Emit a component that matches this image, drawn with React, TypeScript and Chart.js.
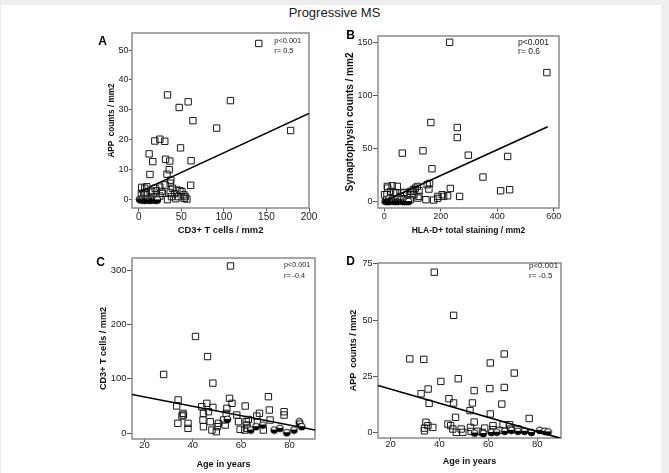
import React, { useEffect, useRef } from 'react';
import { Chart, registerables } from 'chart.js';

Chart.register(...registerables);

const FONT = '"Liberation Sans", Arial, Helvetica, sans-serif';

// ---------- Panel A : APP vs CD3+ ----------
const aSquares: [number, number][] = [
  [141, 52.2], [33.8, 35], [58.1, 32.7], [47.5, 30.8], [107.7, 33.1], [63.7, 26.4], [91.5, 23.9],
  [178.4, 23.1], [24.8, 20.2], [18.9, 19.6], [30.6, 19.5], [49.1, 17.3], [12.2, 15.3], [16.5, 12.7],
  [31.5, 13.5], [36.5, 12.9], [61.5, 13], [35.8, 10], [13.2, 8.4], [33.2, 8.5], [37.7, 6.5], [61, 4.8],
  [31, 4.9], [24.8, 4.2], [7.1, 3.8], [3.5, 4.1], [9.4, 4.3], [19.2, 3.8], [36.9, 5.5], [39.6, 3.8],
  [44.8, 3.2], [50.7, 2.7], [37, 2.4], [42, 2], [46.8, 1], [54.6, 1], [56.6, 0.2], [27, 2.7],
  [15.2, 2.7], [7.3, 2.2], [3.1, 2.1], [9, 2.3], [20.8, 3], [27.9, 2.1], [53.4, 0.4], [43.6, 0.3],
  [33.8, 0], [38.5, 1], [5.9, 1.6], [17.7, 1], [24.8, 1.2], [48.3, 3], [53, 1.6],
];
const aCircles: [number, number][] = [
  [1, 0.1], [2.5, -0.1], [4, 0.2], [5, 0], [6.5, -0.2], [8, 0.1], [9, -0.1], [10.5, 0.2], [12, 0],
  [13, -0.2], [14.5, 0.1], [16, -0.1], [17, 0.2], [18.5, 0], [20, -0.2], [21, 0.1], [22, -0.1],
];
const aFit: [number, number][] = [[0, 2.5], [200, 28.8]];
const aXTicks = [0, 50, 100, 150, 200];
const aYTicks = [0, 10, 20, 30, 40, 50];

// ---------- Panel B : Synaptophysin vs HLA-D ----------
const bSquares: [number, number][] = [
  [231.5, 150], [576, 121.5], [165, 74.5], [258.6, 69.8], [258.6, 60.4], [63.8, 45.7], [137, 47.9],
  [297.6, 43.8], [437, 42.6], [168.9, 31], [349.6, 23.2], [160.6, 17.2], [158.2, 11.9], [233.9, 12.5],
  [412.2, 10.3], [444, 11.3], [266.9, 5], [147.6, 1.9], [174.8, 1.6], [189, 3.1], [210.2, 5],
  [224.4, 5.6], [119.3, 3.4], [10.6, 14.4], [28, 15], [46, 14.4], [1, 6.6], [22, 9.7], [40, 8.2],
  [70, 8.2], [93, 9.7], [117, 14.4], [123, 10.6], [105, 6.6], [123, 5], [152, 16], [190, 5],
  [205, 6.6], [12, 12.8], [33, 8.8], [9.4, 6.6], [68.5, 8.8], [98, 9.7], [109.8, 12.8], [104, 11.3],
  [80.3, 6.6], [56.7, 5], [39, 2.5], [92, 1.9],
];
const bCircles: [number, number][] = [
  [3, 0.5], [8, 2.2], [12, 0.2], [16, 2.8], [20, 0.6], [25, 1.5], [29, 2.4], [33, 0.4], [38, 1.9],
  [42, 0.2], [46, 2.6], [50, 0.5], [55, 1.4], [59, 2.2], [63, 0.4], [68, 1.9], [72, 0.1], [77, 1.3],
  [81, 0.5], [86, 0.2],
];
const bFit: [number, number][] = [[0, 0.5], [579, 70.6]];
const bXTicks = [0, 200, 400, 600];
const bYTicks = [0, 50, 100, 150];

// ---------- Panel C : CD3+ vs Age ----------
const cSquares: [number, number][] = [
  [55.6, 308], [41.1, 178], [46.1, 141], [48.3, 92], [27.9, 108], [33.9, 61], [33.3, 50],
  [35.9, 36.3], [35.5, 31.3], [33.8, 17.9], [38, 17.9], [38, 8.6], [43.7, 48.6], [44.4, 36],
  [45.8, 54.7], [46.5, 39.3], [44.2, 23.9], [44.4, 11.7], [47.2, 20.9], [47.9, 5.5], [49.7, 2.5],
  [50.6, 17.9], [54.1, 45.5], [55.2, 64], [56.2, 54.7], [53.8, 36.3], [52.7, 24], [53.4, 14.7],
  [58.2, 33.2], [58.9, 20.9], [61.7, 49.8], [62.1, 20.9], [62.4, 14.8], [62.6, 8.6], [59.6, 6.8],
  [66.5, 31.3], [67.6, 36.3], [66.7, 20.9], [69.2, 5.5], [71.3, 67], [71.7, 42.4], [72, 24],
  [77.8, 39.3], [77.8, 33.2], [48.3, 47.3], [50.1, 11.7], [61.5, 5.5], [63, 25], [36.1, 33.2],
];
const cCircles: [number, number][] = [
  [54.3, 25.2], [64, 5.5], [66.2, 11.7], [69, 14.8], [73.7, 5.5], [76.1, 8.6], [78.9, 0.6],
  [81.9, 5.5], [84.1, 20.9], [84.3, 17], [85.1, 11.7],
];
const cFit: [number, number][] = [[14.8, 71], [90.6, 5.5]];
const cXTicks = [20, 40, 60, 80];
const cYTicks = [0, 100, 200, 300];

// ---------- Panel D : APP vs Age ----------
const dSquares: [number, number][] = [
  [37.9, 71.3], [45.8, 52.1], [27.9, 32.7], [33.6, 32.5], [66.5, 34.9], [60.8, 30.9], [70.6, 26.4],
  [40.6, 22.7], [47.7, 23.9], [60.6, 19.5], [66.5, 20], [35.4, 19.3], [32.5, 17.2], [54.2, 18.6],
  [43.9, 15], [35.8, 12.9], [45.8, 13.1], [53.5, 13.1], [65.5, 12.6], [52.5, 9.7], [60.8, 8.2],
  [76.7, 6.2], [46.6, 6.7], [54.2, 4.6], [34.5, 4.5], [35.3, 3], [33.9, 1.9], [33.9, 0.7],
  [37.3, 2.2], [43.5, 3.7], [44.6, 3], [45.5, 1.5], [46.9, 0], [48.9, 1.5], [49.6, 0], [52.7, 2.2],
  [53, 0.4], [55.7, 0.5], [58.5, 1.9], [61.9, 3], [61.9, 1.2], [64.6, 0.9], [68.7, 3.4], [69.1, 1.5],
  [72.1, 1.5], [57.6, 0], [66, 3.4],
];
const dCircles: [number, number][] = [
  [54.4, -0.3], [61.2, 0], [66.7, 0.5], [69.4, 0.9], [72.1, 0.5], [74.8, 0.5], [77.6, 0], [81, 0.9],
  [83, 0.5], [84.4, 0.2], [63.4, 0.1], [57.9, -0.5],
];
const dFit: [number, number][] = [[14.9, 20.9], [89.7, -2.7]];
const dXTicks = [20, 40, 60, 80];
const dYTicks = [0, 25, 50, 75];

interface PanelCfg {
  key: string;
  area: { l: number; t: number; r: number; b: number };
  xRange: [number, number];
  yRange: [number, number];
  xTicks: number[];
  yTicks: number[];
  xTitle: string;
  yTitle: string;
  xTitleSize: number;
  yTitleSize: number;
  xTickSize: number;
  yTickSize: number;
  yTitleCX: number;
  xTitleCY: number;
  tickLenX: number;
  tickLenY: number;
  xTickPad: number;
  squares: [number, number][];
  circles: [number, number][];
  fit: [number, number][];
  letter: string;
  letterC: [number, number];
  ann: { left: number; c1: number; c2: number; size: number; r: string };
}

const panels: PanelCfg[] = [
  {
    key: 'A', area: { l: 132, t: 33, r: 309, b: 208 }, xRange: [-7.9, 200], yRange: [-2.8, 55.7],
    xTicks: aXTicks, yTicks: aYTicks, xTitle: 'CD3+ T cells / mm2', yTitle: 'APP  counts / mm2',
    xTitleSize: 9.4, yTitleSize: 8.2, xTickSize: 10, yTickSize: 9, yTitleCX: 111.7, xTitleCY: 230.7,
    tickLenX: 3.5, tickLenY: 3, xTickPad: 0, squares: aSquares, circles: aCircles, fit: aFit,
    letter: 'A', letterC: [102.7, 40.7], ann: { left: 274.3, c1: 41, c2: 50.3, size: 7.4, r: 'r= 0.5' },
  },
  {
    key: 'B', area: { l: 378, t: 36, r: 559, b: 208 }, xRange: [-22.3, 619], yRange: [-5.9, 155.9],
    xTicks: bXTicks, yTicks: bYTicks, xTitle: 'HLA-D+ total staining / mm2', yTitle: 'Synaptophysin counts / mm2',
    xTitleSize: 8.5, yTitleSize: 10, xTickSize: 9, yTickSize: 9, yTitleCX: 350.7, xTitleCY: 230.7,
    tickLenX: 3.5, tickLenY: 5, xTickPad: 0, squares: bSquares, circles: bCircles, fit: bFit,
    letter: 'B', letterC: [350.7, 35], ann: { left: 518, c1: 42.3, c2: 51.7, size: 8.5, r: 'r= 0.6' },
  },
  {
    key: 'C', area: { l: 132, t: 258, r: 315, b: 439 }, xRange: [14.8, 90.6], yRange: [-11, 322.7],
    xTicks: cXTicks, yTicks: cYTicks, xTitle: 'Age in years', yTitle: 'CD3+ T cells / mm2',
    xTitleSize: 9.1, yTitleSize: 9.1, xTickSize: 9.5, yTickSize: 9.5, yTitleCX: 103, xTitleCY: 464.3,
    tickLenX: 3, tickLenY: 5, xTickPad: -2, squares: cSquares, circles: cCircles, fit: cFit,
    letter: 'C', letterC: [100.7, 262.3], ann: { left: 284, c1: 264, c2: 275, size: 7.2, r: 'r= -0.4' },
  },
  {
    key: 'D', area: { l: 378, t: 263, r: 561, b: 438 }, xRange: [14.9, 89.7], yRange: [-2.5, 75.4],
    xTicks: dXTicks, yTicks: dYTicks, xTitle: 'Age in years', yTitle: 'APP  counts / mm2',
    xTitleSize: 9, yTitleSize: 9, xTickSize: 9.5, yTickSize: 9, yTitleCX: 354, xTitleCY: 461.7,
    tickLenX: 3, tickLenY: 5, xTickPad: -2, squares: dSquares, circles: dCircles, fit: dFit,
    letter: 'D', letterC: [350.7, 261], ann: { left: 529, c1: 266, c2: 275.7, size: 8, r: 'r= -0.5' },
  },
];

const YW = 50;
const XH = 38;
const PAD_T = 12;
const PAD_R = 14;

function geom(p: PanelCfg) {
  const left = p.area.l - YW;
  const top = p.area.t - PAD_T;
  const w = p.area.r + PAD_R - left;
  const h = p.area.b + XH - top;
  return { left, top, w, h };
}

function makeHalfDot(): HTMLCanvasElement {
  const c = document.createElement('canvas');
  c.width = 9;
  c.height = 9;
  const ctx = c.getContext('2d')!;
  const cx = 4.5, cy = 4.5, r = 3.4;
  ctx.beginPath();
  ctx.arc(cx, cy, r, 0, Math.PI * 2);
  ctx.fillStyle = '#fff';
  ctx.fill();
  ctx.save();
  ctx.beginPath();
  ctx.rect(0, cy - 0.5, 9, 9);
  ctx.clip();
  ctx.beginPath();
  ctx.arc(cx, cy, r, 0, Math.PI * 2);
  ctx.fillStyle = '#000';
  ctx.fill();
  ctx.restore();
  ctx.beginPath();
  ctx.arc(cx, cy, r, 0, Math.PI * 2);
  ctx.strokeStyle = '#000';
  ctx.lineWidth = 1;
  ctx.stroke();
  return c;
}

const boxPlugin = {
  id: 'plotBox',
  beforeDatasetsDraw(chart: any) {
    const { left, top, right, bottom } = chart.chartArea;
    const ctx = chart.ctx;
    ctx.save();
    ctx.strokeStyle = '#8a8a8a';
    ctx.lineWidth = 1.5;
    ctx.strokeRect(left, top, right - left, bottom - top);
    ctx.restore();
  },
};

const toPts = (arr: [number, number][]) => arr.map(([x, y]) => ({ x, y }));

function Panel({ p }: { p: PanelCfg }) {
  const ref = useRef<HTMLCanvasElement | null>(null);
  const g = geom(p);
  useEffect(() => {
    if (!ref.current) return;
    const yLH = p.yTitleSize * 1.2;
    const xLH = p.xTitleSize * 1.2;
    const yTitlePad = p.yTitleCX - g.left - yLH / 2;
    const xTitlePad = g.top + g.h - p.xTitleCY - xLH / 2;
    const dot = makeHalfDot();
    const chart = new Chart(ref.current, {
      type: 'scatter',
      data: {
        datasets: [
          {
            label: 'fit', data: toPts(p.fit), showLine: true, borderColor: '#000', borderWidth: 1.6,
            pointRadius: 0, pointHoverRadius: 0, order: 0,
          } as any,
          {
            label: 'circles', data: toPts(p.circles), pointStyle: dot as any, pointRadius: 3.5, order: 1,
          } as any,
          {
            label: 'squares', data: toPts(p.squares), pointStyle: 'rect', pointRadius: 4.5,
            borderColor: '#1a1a1a', borderWidth: 1, backgroundColor: 'rgba(0,0,0,0)', order: 2,
          } as any,
        ],
      },
      options: {
        responsive: false,
        maintainAspectRatio: false,
        animation: false,
        devicePixelRatio: 1,
        events: [],
        layout: { padding: { left: 0, top: PAD_T, right: PAD_R, bottom: 0 } },
        plugins: { legend: { display: false }, tooltip: { enabled: false } },
        scales: {
          x: {
            type: 'linear', min: p.xRange[0], max: p.xRange[1],
            afterBuildTicks: (s: any) => { s.ticks = p.xTicks.map((v) => ({ value: v })); },
            afterFit: (s: any) => { s.height = XH; },
            grid: { display: true, drawOnChartArea: false, drawTicks: true, tickLength: p.tickLenX, color: '#555', lineWidth: 1 },
            border: { display: false },
            ticks: { font: { family: FONT, size: p.xTickSize }, color: '#222', padding: p.xTickPad, maxRotation: 0, autoSkip: false, callback: (v: any) => String(v) },
            title: { display: true, text: p.xTitle, color: '#111', font: { family: FONT, size: p.xTitleSize, weight: 'bold' }, padding: { top: 0, bottom: xTitlePad } },
          },
          y: {
            type: 'linear', min: p.yRange[0], max: p.yRange[1],
            afterBuildTicks: (s: any) => { s.ticks = p.yTicks.map((v) => ({ value: v })); },
            afterFit: (s: any) => { s.width = YW; },
            grid: { display: true, drawOnChartArea: false, drawTicks: true, tickLength: p.tickLenY, color: '#555', lineWidth: 1 },
            border: { display: false },
            ticks: { font: { family: FONT, size: p.yTickSize }, color: '#222', padding: 0.5, autoSkip: false, callback: (v: any) => String(v) },
            title: { display: true, text: p.yTitle, color: '#111', font: { family: FONT, size: p.yTitleSize, weight: 'bold' }, padding: { top: yTitlePad, bottom: 0 } },
          },
        },
      } as any,
      plugins: [boxPlugin],
    });
    return () => chart.destroy();
  }, []);
  return (
    <>
      <canvas
        ref={ref}
        width={g.w}
        height={g.h}
        style={{ position: 'absolute', left: g.left, top: g.top, width: g.w, height: g.h }}
      />
      <div
        style={{
          position: 'absolute', left: p.letterC[0] - 10, top: p.letterC[1] - 6, width: 20, textAlign: 'center',
          fontFamily: FONT, fontWeight: 'bold', fontSize: 12, lineHeight: '12px', color: '#000',
        }}
      >
        {p.letter}
      </div>
      <div
        style={{
          position: 'absolute', left: p.ann.left, top: p.ann.c1 - (p.ann.c2 - p.ann.c1) / 2,
          fontFamily: FONT, fontSize: p.ann.size, lineHeight: `${p.ann.c2 - p.ann.c1}px`, color: '#222',
          whiteSpace: 'pre',
        }}
      >
        <div>p&lt;0.001</div>
        <div>{p.ann.r}</div>
      </div>
    </>
  );
}

export default function App() {
  return (
    <div style={{ position: 'fixed', left: 0, top: 0, width: 669, height: 473, background: '#eeeeee', overflow: 'hidden' }}>
      <div style={{ position: 'absolute', left: 1, top: 5, width: 660, height: 468, background: '#ffffff' }} />
      <div
        style={{
          position: 'absolute', left: 234.5, top: 6, width: 200, textAlign: 'center', fontFamily: FONT,
          fontSize: 13, lineHeight: '13px', color: '#222',
        }}
      >
        Progressive MS
      </div>
      {panels.map((p) => (
        <Panel key={p.key} p={p} />
      ))}
    </div>
  );
}
